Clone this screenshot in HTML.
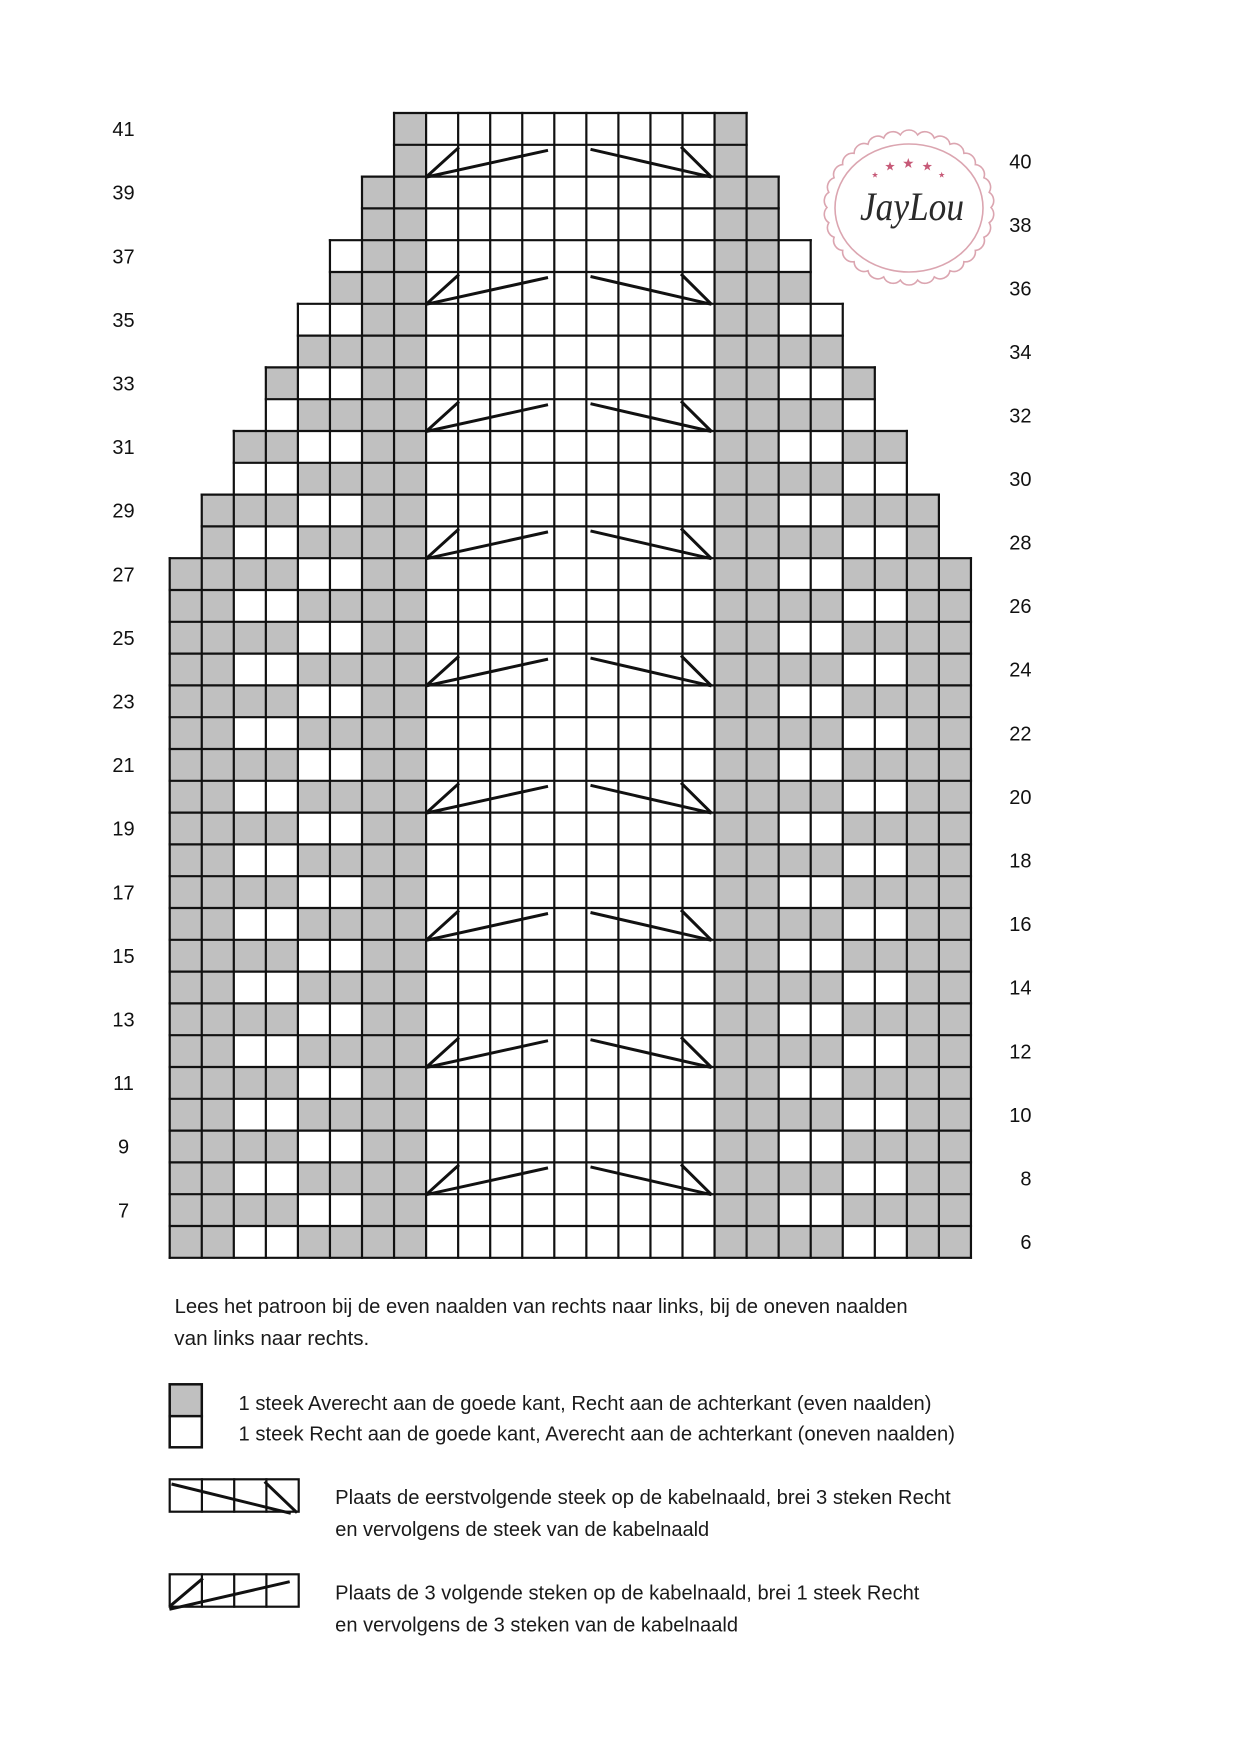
<!DOCTYPE html>
<html>
<head>
<meta charset="utf-8">
<style>
html,body{margin:0;padding:0;background:#fff;}
svg{display:block;}
</style>
</head>
<body>
<svg xmlns="http://www.w3.org/2000/svg" width="1241" height="1755" viewBox="0 0 1241 1755">
<defs>
  <pattern id="po" patternUnits="userSpaceOnUse" x="0" y="113" width="1241" height="63.6">
    <rect x="0" y="0" width="1241" height="31.8" fill="#c0c0c0"/>
  </pattern>
  <pattern id="pe" patternUnits="userSpaceOnUse" x="0" y="113" width="1241" height="63.6">
    <rect x="0" y="31.8" width="1241" height="31.8" fill="#c0c0c0"/>
  </pattern>
  <g id="cab">
    <path d="M426.1 32.3 L459 2.5 M426.1 32.3 L548 5.5 M711.5 32.3 L681 2 M711.5 32.3 L590.5 4.5" stroke="#111" stroke-width="3" fill="none"/>
  </g>
  <polygon id="star" points="0,-1 0.235,-0.324 0.951,-0.309 0.380,0.124 0.588,0.809 0,0.4 -0.588,0.809 -0.380,0.124 -0.951,-0.309 -0.235,-0.324"/>
</defs>
<rect x="0" y="0" width="1241" height="1755" fill="#fff"/>

<!-- gray fills -->
<g fill="#c0c0c0">
  <rect x="169.7" y="558.2" width="32.05" height="699.6"/>
  <rect x="201.75" y="494.6" width="32.05" height="763.2"/>
  <rect x="906.85" y="494.6" width="32.05" height="763.2"/>
  <rect x="938.9" y="558.2" width="32.05" height="699.6"/>
  <rect x="362" y="176.6" width="32.05" height="1081.2"/>
  <rect x="394.05" y="113" width="32.05" height="1144.8"/>
  <rect x="714.55" y="113" width="32.05" height="1144.8"/>
  <rect x="746.6" y="176.6" width="32.05" height="1081.2"/>
</g>
<rect x="233.8" y="431" width="32.05" height="826.8" fill="url(#po)"/>
<rect x="265.85" y="367.4" width="32.05" height="890.4" fill="url(#po)"/>
<rect x="842.75" y="367.4" width="32.05" height="890.4" fill="url(#po)"/>
<rect x="874.8" y="431" width="32.05" height="826.8" fill="url(#po)"/>
<rect x="297.9" y="303.8" width="32.05" height="954" fill="url(#pe)"/>
<rect x="329.95" y="240.2" width="32.05" height="1017.6" fill="url(#pe)"/>
<rect x="778.65" y="240.2" width="32.05" height="1017.6" fill="url(#pe)"/>
<rect x="810.7" y="303.8" width="32.05" height="954" fill="url(#pe)"/>

<!-- grid lines -->
<g stroke="#111" stroke-width="2.2" stroke-linecap="square" fill="none">
  <path d="M169.7 558.2V1257.8 M201.75 494.6V1257.8 M233.8 431V1257.8 M265.85 367.4V1257.8 M297.9 303.8V1257.8 M329.95 240.2V1257.8 M362 176.6V1257.8
  M394.05 113V1257.8 M426.1 113V1257.8 M458.15 113V1257.8 M490.2 113V1257.8 M522.25 113V1257.8 M554.3 113V1257.8 M586.35 113V1257.8 M618.4 113V1257.8 M650.45 113V1257.8 M682.5 113V1257.8 M714.55 113V1257.8 M746.6 113V1257.8
  M778.65 176.6V1257.8 M810.7 240.2V1257.8 M842.75 303.8V1257.8 M874.8 367.4V1257.8 M906.85 431V1257.8 M938.9 494.6V1257.8 M970.95 558.2V1257.8"/>
  <path d="M394.05 113H746.6 M394.05 144.8H746.6 M362 176.6H778.65 M362 208.4H778.65 M329.95 240.2H810.7 M329.95 272H810.7 M297.9 303.8H842.75 M297.9 335.6H842.75 M265.85 367.4H874.8 M265.85 399.2H874.8 M233.8 431H906.85 M233.8 462.8H906.85 M201.75 494.6H938.9 M201.75 526.4H938.9"/>
  <path d="M169.7 558.2H970.95 M169.7 590H970.95 M169.7 621.8H970.95 M169.7 653.6H970.95 M169.7 685.4H970.95 M169.7 717.2H970.95 M169.7 749H970.95 M169.7 780.8H970.95 M169.7 812.6H970.95 M169.7 844.4H970.95 M169.7 876.2H970.95 M169.7 908H970.95 M169.7 939.8H970.95 M169.7 971.6H970.95 M169.7 1003.4H970.95 M169.7 1035.2H970.95 M169.7 1067H970.95 M169.7 1098.8H970.95 M169.7 1130.6H970.95 M169.7 1162.4H970.95 M169.7 1194.2H970.95 M169.7 1226H970.95 M169.7 1257.8H970.95"/>
</g>

<!-- cables -->
<use href="#cab" x="0" y="144.8"/>
<use href="#cab" x="0" y="272"/>
<use href="#cab" x="0" y="399.2"/>
<use href="#cab" x="0" y="526.4"/>
<use href="#cab" x="0" y="653.6"/>
<use href="#cab" x="0" y="780.8"/>
<use href="#cab" x="0" y="908"/>
<use href="#cab" x="0" y="1035.2"/>
<use href="#cab" x="0" y="1162.4"/>

<!-- row labels -->
<g font-family="'Liberation Sans', Arial, sans-serif" font-size="20" fill="#111" text-anchor="middle">
  <text x="123.5" y="136.1">41</text>
  <text x="123.5" y="199.7">39</text>
  <text x="123.5" y="263.3">37</text>
  <text x="123.5" y="326.9">35</text>
  <text x="123.5" y="390.5">33</text>
  <text x="123.5" y="454.1">31</text>
  <text x="123.5" y="517.7">29</text>
  <text x="123.5" y="581.3">27</text>
  <text x="123.5" y="644.9">25</text>
  <text x="123.5" y="708.5">23</text>
  <text x="123.5" y="772.1">21</text>
  <text x="123.5" y="835.7">19</text>
  <text x="123.5" y="899.3">17</text>
  <text x="123.5" y="962.9">15</text>
  <text x="123.5" y="1026.5">13</text>
  <text x="123.5" y="1090.1">11</text>
  <text x="123.5" y="1153.7">9</text>
  <text x="123.5" y="1217.3">7</text>
</g>
<g font-family="'Liberation Sans', Arial, sans-serif" font-size="20" fill="#111" text-anchor="end">
  <text x="1031.5" y="168.5">40</text>
  <text x="1031.5" y="232">38</text>
  <text x="1031.5" y="295.5">36</text>
  <text x="1031.5" y="359">34</text>
  <text x="1031.5" y="422.5">32</text>
  <text x="1031.5" y="486">30</text>
  <text x="1031.5" y="549.5">28</text>
  <text x="1031.5" y="613.1">26</text>
  <text x="1031.5" y="676.7">24</text>
  <text x="1031.5" y="740.3">22</text>
  <text x="1031.5" y="803.9">20</text>
  <text x="1031.5" y="867.5">18</text>
  <text x="1031.5" y="931.1">16</text>
  <text x="1031.5" y="994.7">14</text>
  <text x="1031.5" y="1058.3">12</text>
  <text x="1031.5" y="1121.9">10</text>
  <text x="1031.5" y="1185.5">8</text>
  <text x="1031.5" y="1249.1">6</text>
</g>

<!-- logo -->
<g fill="none" stroke="#dba5b0" stroke-width="1.6">
  <path d="M991 207.5 A10 10 0 0 1 989.2 222.7 A10 10 0 0 1 983.9 237.2 A10 10 0 0 1 975.3 250.4 A10 10 0 0 1 963.9 261.7 A10 10 0 0 1 950 270.7 A10 10 0 0 1 934.3 276.9 A10 10 0 0 1 917.6 280.1 A10 10 0 0 1 900.4 280.1 A10 10 0 0 1 883.7 276.9 A10 10 0 0 1 868 270.7 A10 10 0 0 1 854.1 261.7 A10 10 0 0 1 842.7 250.4 A10 10 0 0 1 834.1 237.2 A10 10 0 0 1 828.8 222.7 A10 10 0 0 1 827 207.5 A10 10 0 0 1 828.8 192.3 A10 10 0 0 1 834.1 177.8 A10 10 0 0 1 842.7 164.6 A10 10 0 0 1 854.1 153.3 A10 10 0 0 1 868 144.3 A10 10 0 0 1 883.7 138.1 A10 10 0 0 1 900.4 134.9 A10 10 0 0 1 917.6 134.9 A10 10 0 0 1 934.3 138.1 A10 10 0 0 1 950 144.3 A10 10 0 0 1 963.9 153.3 A10 10 0 0 1 975.3 164.6 A10 10 0 0 1 983.9 177.8 A10 10 0 0 1 989.2 192.3 A10 10 0 0 1 991 207.5 Z"/>
  <ellipse cx="909" cy="208" rx="74" ry="64"/>
</g>
<g fill="#c75a78">
  <use href="#star" transform="translate(875 175) scale(3.2)"/>
  <use href="#star" transform="translate(890 166.5) scale(5)"/>
  <use href="#star" transform="translate(908.3 163.5) scale(5.5)"/>
  <use href="#star" transform="translate(927.3 166.5) scale(5)"/>
  <use href="#star" transform="translate(941.7 175) scale(3.2)"/>
</g>
<text x="860" y="220" font-family="'Liberation Serif', serif" font-style="italic" font-size="40" fill="#2a2a2a" textLength="104" lengthAdjust="spacingAndGlyphs">JayLou</text>

<!-- description text -->
<g font-family="'Liberation Sans', Arial, sans-serif" font-size="20" fill="#1a1a1a">
  <text x="174.6" y="1313" textLength="733" lengthAdjust="spacingAndGlyphs">Lees het patroon bij de even naalden van rechts naar links, bij de oneven naalden</text>
  <text x="174.3" y="1345" textLength="195" lengthAdjust="spacingAndGlyphs">van links naar rechts.</text>
  <text x="238.5" y="1410" textLength="693" lengthAdjust="spacingAndGlyphs">1 steek Averecht aan de goede kant, Recht aan de achterkant (even naalden)</text>
  <text x="238.5" y="1440.5" textLength="716.5" lengthAdjust="spacingAndGlyphs">1 steek Recht aan de goede kant, Averecht aan de achterkant (oneven naalden)</text>
  <text x="335.2" y="1504" textLength="615.6" lengthAdjust="spacingAndGlyphs">Plaats de eerstvolgende steek op de kabelnaald, brei 3 steken Recht</text>
  <text x="335.2" y="1536" textLength="374" lengthAdjust="spacingAndGlyphs">en vervolgens de steek van de kabelnaald</text>
  <text x="335.2" y="1599.5" textLength="584.2" lengthAdjust="spacingAndGlyphs">Plaats de 3 volgende steken op de kabelnaald, brei 1 steek Recht</text>
  <text x="335.2" y="1631.5" textLength="402.8" lengthAdjust="spacingAndGlyphs">en vervolgens de 3 steken van de kabelnaald</text>
</g>

<!-- legend boxes -->
<rect x="169.7" y="1384.3" width="32.1" height="31.8" fill="#c0c0c0"/>
<rect x="169.7" y="1416.1" width="32.1" height="31.2" fill="#fff"/>
<g stroke="#111" stroke-width="2.5" fill="none" stroke-linecap="square">
  <rect x="169.7" y="1384.3" width="32.1" height="63"/>
  <path d="M169.7 1416.1H201.8"/>
</g>
<g stroke="#111" stroke-width="2.2" fill="none" stroke-linecap="square">
  <rect x="169.7" y="1479.3" width="129" height="32.4"/>
  <path d="M201.9 1479.3V1511.7 M234.2 1479.3V1511.7 M266.4 1479.3V1511.7"/>
  <rect x="169.7" y="1574.3" width="129" height="32.4"/>
  <path d="M201.9 1574.3V1606.7 M234.2 1574.3V1606.7 M266.4 1574.3V1606.7"/>
</g>
<g stroke="#111" stroke-width="3" fill="none">
  <path d="M171.5 1484 L290.8 1513.3 M264.6 1481.7 L297 1512.7"/>
  <path d="M169.4 1606.7 L202.9 1578.3 M169.4 1609.3 L289.7 1581.7"/>
</g>
</svg>
</body>
</html>
